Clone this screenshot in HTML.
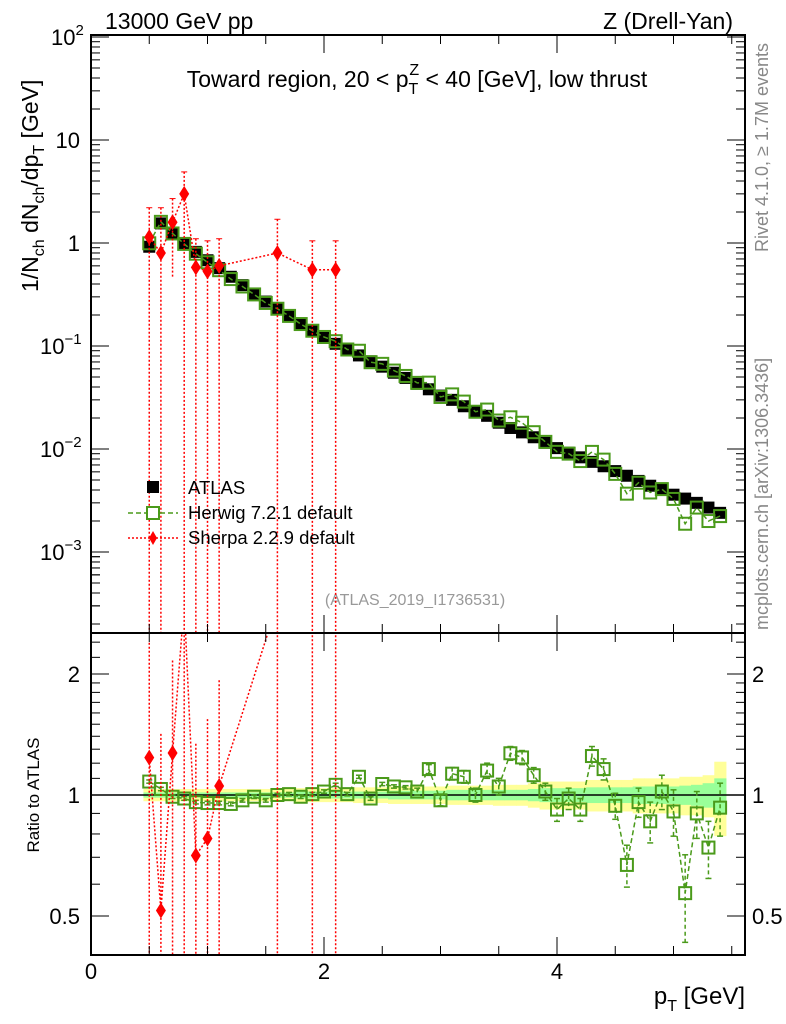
<!DOCTYPE html>
<html><head><meta charset="utf-8"><style>
html,body{margin:0;padding:0;background:#fff;width:786px;height:1024px;overflow:hidden}
svg{display:block;font-family:"Liberation Sans",sans-serif}
</style></head><body>
<svg id="c" width="786" height="1024" viewBox="0 0 786 1024" xmlns="http://www.w3.org/2000/svg">
<text x="105" y="29" font-size="23">13000 GeV pp</text>
<text x="733" y="29" font-size="23" text-anchor="end">Z (Drell-Yan)</text>
<text x="417" y="87" font-size="23" text-anchor="middle">Toward region, 20 &lt; p<tspan dy="7" font-size="16">T</tspan><tspan dx="-9" dy="-19" font-size="16">Z</tspan><tspan dy="12"> &lt; 40 [GeV], low thrust</tspan></text>
<text transform="translate(768,252) rotate(-90)" font-size="18" fill="#888">Rivet 4.1.0, ≥ 1.7M events</text>
<text transform="translate(768,630) rotate(-90)" font-size="18" fill="#888">mcplots.cern.ch [arXiv:1306.3436]</text>
<text x="415" y="605" font-size="16" fill="#999" text-anchor="middle">(ATLAS_2019_I1736531)</text>
<text transform="translate(38,292) rotate(-90)" font-size="23">1/N<tspan font-size="16" dy="6">ch</tspan><tspan dy="-6"> dN</tspan><tspan font-size="16" dy="6">ch</tspan><tspan dy="-6">/dp</tspan><tspan font-size="16" dy="6">T</tspan><tspan dy="-6"> [GeV]</tspan></text>
<text transform="translate(39,795) rotate(-90)" font-size="17" text-anchor="middle">Ratio to ATLAS</text>
<text x="745" y="1004" font-size="24" text-anchor="end">p<tspan font-size="16" dy="7">T</tspan><tspan dy="-7"> [GeV]</tspan></text>
<g id="bands"></g><g id="marks"></g><g id="axes"></g>
<g>
 <rect x="147" y="481" width="12" height="12" fill="#000"/>
 <text x="188" y="494" font-size="18.5">ATLAS</text>
 <line x1="128" y1="513" x2="178" y2="513" stroke="#4a9a1a" stroke-width="1.5" stroke-dasharray="5,3"/>
 <rect x="147" y="507" width="12" height="12" fill="#fff" stroke="#4a9a1a" stroke-width="2"/>
 <text x="188" y="519" font-size="18.5">Herwig 7.2.1 default</text>
 <line x1="128" y1="538" x2="178" y2="538" stroke="red" stroke-width="1.5" stroke-dasharray="2,2"/>
 <path d="M153,531 L157,538 L153,545 L149,538Z" fill="red"/>
 <text x="188" y="544" font-size="18.5">Sherpa 2.2.9 default</text>
</g>
</svg>
<script>
const xs=[0.5,0.6,0.7,0.8,0.9,1.0,1.1,1.2,1.3,1.4,1.5,1.6,1.7,1.8,1.9,2.0,2.1,2.2,2.3,2.4,2.5,2.6,2.7,2.8,2.9,3.0,3.1,3.2,3.3,3.4,3.5,3.6,3.7,3.8,3.9,4.0,4.1,4.2,4.3,4.4,4.5,4.6,4.7,4.8,4.9,5.0,5.1,5.2,5.3,5.4];
const atlas=[0.92,1.55,1.25,1.0,0.82,0.68,0.57,0.47,0.39,0.32,0.27,0.23,0.195,0.165,0.14,0.12,0.105,0.092,0.081,0.071,0.063,0.055,0.049,0.043,0.038,0.033,0.030,0.026,0.023,0.021,0.018,0.016,0.0145,0.013,0.0115,0.0102,0.0092,0.0083,0.0075,0.0068,0.0061,0.0055,0.0049,0.0044,0.0040,0.0036,0.0033,0.0030,0.0027,0.0024];
const herwigRatio=[1.08,1.035,0.99,0.98,0.96,0.955,0.955,0.95,0.97,0.99,0.97,1.0,1.005,0.99,1.005,1.02,1.06,1.005,1.11,0.98,1.065,1.05,1.045,1.02,1.16,0.97,1.13,1.11,1.0,1.15,1.05,1.27,1.24,1.12,1.02,0.92,0.98,0.92,1.25,1.16,0.94,0.67,0.96,0.86,1.02,0.91,0.57,0.90,0.74,0.93];
const herwigErr=[0.01,0.01,0.01,0.01,0.01,0.01,0.01,0.01,0.01,0.01,0.01,0.01,0.01,0.01,0.01,0.01,0.01,0.01,0.01,0.01,0.01,0.01,0.01,0.02,0.03,0.03,0.04,0.04,0.04,0.05,0.05,0.05,0.05,0.05,0.05,0.06,0.06,0.06,0.07,0.07,0.07,0.08,0.08,0.10,0.10,0.12,0.14,0.12,0.12,0.14];
const yellowBand=[0.035,0.035,0.035,0.035,0.035,0.035,0.035,0.035,0.035,0.035,0.035,0.035,0.035,0.04,0.04,0.04,0.04,0.04,0.045,0.045,0.045,0.05,0.05,0.05,0.05,0.05,0.055,0.055,0.055,0.055,0.06,0.06,0.06,0.07,0.08,0.08,0.08,0.08,0.09,0.09,0.09,0.09,0.10,0.10,0.10,0.10,0.11,0.11,0.12,0.21];
const greenBand=[0.015,0.015,0.015,0.015,0.015,0.015,0.015,0.015,0.015,0.015,0.015,0.015,0.015,0.02,0.02,0.02,0.02,0.02,0.02,0.02,0.02,0.025,0.025,0.025,0.025,0.025,0.03,0.03,0.03,0.03,0.03,0.03,0.03,0.035,0.04,0.04,0.04,0.04,0.045,0.045,0.045,0.045,0.05,0.05,0.05,0.05,0.055,0.06,0.07,0.10];
const sherpaX=[0.5,0.6,0.7,0.8,0.9,1.0,1.1,1.6,1.9,2.1];
const sherpaY=[1.14,0.80,1.59,3.0,0.58,0.53,0.60,0.80,0.55,0.55];
const sherpaUp=[2.2,2.2,2.7,4.9,1.1,1.05,1.1,1.7,1.05,1.05];
const sherpaDn=[0,0,0.47,0,0,0,0,0,0,0];
const mainTicks=[[2,"10","2"],[1,"10",""],[0,"1",""],[-1,"10","−1"],[-2,"10","−2"],[-3,"10","−3"]];
const ratioTicks=[[2,"2"],[1,"1"],[0.5,"0.5"]];
const xTicks=[0,2,4];

const NS="http://www.w3.org/2000/svg";
const L=91,R=745,T=35,MB=633,RB=955;
const X=v=>L+v*116.5;
const Y=v=>243-Math.log10(Math.max(v,1e-9))*103;
const YR=v=>795-Math.log10(Math.max(v,1e-9))*402;
function mk(tag,attrs,parent){const e=document.createElementNS(NS,tag);for(const k in attrs)e.setAttribute(k,attrs[k]);parent.appendChild(e);return e;}
const svg=document.getElementById('c');
const defs=mk('defs',{},svg);
const c1=mk('clipPath',{id:'cm'},defs);mk('rect',{x:L,y:T,width:R-L,height:MB-T},c1);
const c2=mk('clipPath',{id:'cr'},defs);mk('rect',{x:L,y:MB,width:R-L,height:RB-MB},c2);
const bands=document.getElementById('bands'),marks=document.getElementById('marks'),axes=document.getElementById('axes');
const gm=mk('g',{'clip-path':'url(#cm)'},marks), gr=mk('g',{'clip-path':'url(#cr)'},marks);
const gb=mk('g',{'clip-path':'url(#cr)'},bands);
xs.forEach((x,i)=>{
 let e=mk('rect',{x:X(x-0.05),y:YR(1+yellowBand[i]),width:X(0.1)-L+0.5,height:YR(1-yellowBand[i])-YR(1+yellowBand[i]),fill:'#ffff99'},gb);
 
 
});
xs.forEach((x,i)=>{
 let e=mk('rect',{x:X(x-0.05),y:YR(1+greenBand[i]),width:X(0.1)-L+0.5,height:YR(1-greenBand[i])-YR(1+greenBand[i]),fill:'#99ff99'},gb);
 
 
});
mk('line',{x1:L,x2:R,y1:YR(1),y2:YR(1),stroke:'#000','stroke-width':1.5},gr);
xs.forEach((x,i)=>{
 let e=mk('rect',{x:X(x)-6,y:Y(atlas[i])-6,width:12,height:12,fill:'#000'},gm);
 
 
});
const hw=xs.map((x,i)=>atlas[i]*herwigRatio[i]);
mk('polyline',{points:xs.map((x,i)=>X(x)+','+Y(hw[i])).join(' '),fill:'none',stroke:'#4a9a1a','stroke-width':1.5,'stroke-dasharray':'5,3'},gm);
mk('polyline',{points:xs.map((x,i)=>X(x)+','+YR(herwigRatio[i])).join(' '),fill:'none',stroke:'#4a9a1a','stroke-width':1.5,'stroke-dasharray':'5,3'},gr);
xs.forEach((x,i)=>{
 const r=herwigRatio[i],er=herwigErr[i];
 mk('line',{x1:X(x),x2:X(x),y1:YR(r+er),y2:YR(r-er),stroke:'#4a9a1a','stroke-width':1.5,'stroke-dasharray':'4,3'},gr);
 mk('line',{x1:X(x)-3,x2:X(x)+3,y1:YR(r+er),y2:YR(r+er),stroke:'#4a9a1a','stroke-width':1.5},gr);
 mk('line',{x1:X(x)-3,x2:X(x)+3,y1:YR(r-er),y2:YR(r-er),stroke:'#4a9a1a','stroke-width':1.5},gr);
 let e=mk('rect',{x:X(x)-6,y:Y(hw[i])-6,width:12,height:12,fill:'none',stroke:'#4a9a1a','stroke-width':2},gm);
 
 
 let f=mk('rect',{x:X(x)-6,y:YR(r)-6,width:12,height:12,fill:'none',stroke:'#4a9a1a','stroke-width':2},gr);
 
 
});
const sIdx=sherpaX.map(x=>xs.findIndex(v=>Math.abs(v-x)<1e-6));
const sr=sherpaY.map((y,i)=>y/atlas[sIdx[i]]);
const clampR=v=>Math.min(Math.max(v,0.3),3);
mk('polyline',{points:sherpaX.map((x,i)=>X(x)+','+Y(sherpaY[i])).join(' '),fill:'none',stroke:'red','stroke-width':1.5,'stroke-dasharray':'2,2'},gm);
mk('polyline',{points:sherpaX.map((x,i)=>X(x)+','+YR(clampR(sr[i]))).join(' '),fill:'none',stroke:'red','stroke-width':1.5,'stroke-dasharray':'2,2'},gr);
sherpaX.forEach((x,i)=>{
 const a=atlas[sIdx[i]];
 const dn=sherpaDn[i]>0?sherpaDn[i]:1e-4;
 mk('line',{x1:X(x),x2:X(x),y1:Y(sherpaUp[i]),y2:Y(dn),stroke:'red','stroke-width':1.5,'stroke-dasharray':'2,2'},gm);
 mk('line',{x1:X(x)-3,x2:X(x)+3,y1:Y(sherpaUp[i]),y2:Y(sherpaUp[i]),stroke:'red','stroke-width':1},gm);
 mk('line',{x1:X(x),x2:X(x),y1:YR(clampR(sherpaUp[i]/a)),y2:YR(clampR(dn/a)),stroke:'red','stroke-width':1.5,'stroke-dasharray':'2,2'},gr);
 const cx=X(x),cy=Y(sherpaY[i]),cyr=YR(clampR(sr[i]));
 let e=mk('path',{d:`M${cx},${cy-8}L${cx+5},${cy}L${cx},${cy+8}L${cx-5},${cy}Z`,fill:'red'},gm);
 
 
 let f=mk('path',{d:`M${cx},${cyr-8}L${cx+5},${cyr}L${cx},${cyr+8}L${cx-5},${cyr}Z`,fill:'red'},gr);
 
 
});
mk('rect',{x:L,y:T,width:R-L,height:MB-T,fill:'none',stroke:'#000','stroke-width':2},axes);
mk('rect',{x:L,y:MB,width:R-L,height:RB-MB,fill:'none',stroke:'#000','stroke-width':2},axes);
mainTicks.forEach(t=>{
 const y=Y(Math.pow(10,t[0]));
 mk('line',{x1:L,x2:L+18,y1:y,y2:y,stroke:'#000','stroke-width':1},axes);
 mk('line',{x1:R-18,x2:R,y1:y,y2:y,stroke:'#000','stroke-width':1},axes);
 for(let m=2;m<10;m++){const ym=Y(m*Math.pow(10,t[0]-1));if(ym<MB&&ym>T){mk('line',{x1:L,x2:L+9,y1:ym,y2:ym,stroke:'#000'},axes);mk('line',{x1:R-9,x2:R,y1:ym,y2:ym,stroke:'#000'},axes);}}
 const tx=mk('text',{x:80,y:y+8,'font-size':22,'text-anchor':'end'},axes);
 tx.textContent=t[1];
 
 
 if(t[2]){const s=mk('tspan',{dy:-10,'font-size':15},tx);s.textContent=t[2];tx.setAttribute('text-anchor','start');tx.setAttribute('x',t[2].length>1?40:51);}
});
for(let m=2;m<10;m++){const ym=Y(m*1e-4);if(ym<MB){mk('line',{x1:L,x2:L+9,y1:ym,y2:ym,stroke:'#000'},axes);mk('line',{x1:R-9,x2:R,y1:ym,y2:ym,stroke:'#000'},axes);}}
ratioTicks.forEach(t=>{
 const y=YR(t[0]);
 mk('line',{x1:L,x2:L+18,y1:y,y2:y,stroke:'#000'},axes);
 mk('line',{x1:R-18,x2:R,y1:y,y2:y,stroke:'#000'},axes);
 const a=mk('text',{x:80,y:y+8,'font-size':22,'text-anchor':'end'},axes);a.textContent=t[1];
 
 
 const b=mk('text',{x:752,y:y+8,'font-size':22},axes);b.textContent=t[1];
 
 
});
[0.4,0.6,0.7,0.8,0.9,1.1,1.2,1.3,1.4,1.5,1.6,1.7,1.8,1.9,2.2,2.4].forEach(v=>{const y=YR(v);mk('line',{x1:L,x2:L+9,y1:y,y2:y,stroke:'#000'},axes);mk('line',{x1:R-9,x2:R,y1:y,y2:y,stroke:'#000'},axes);});
for(let v=0;v<=5.5;v+=0.5){
 const x=X(v),big=Math.abs(v%2)<1e-6,h=big?18:9;
 [[T,T+h],[MB,MB-h],[MB,MB+h],[RB,RB-h]].forEach(p=>mk('line',{x1:x,x2:x,y1:p[0],y2:p[1],stroke:'#000'},axes));
}
xTicks.forEach(v=>{const t=mk('text',{x:X(v),y:979,'font-size':22,'text-anchor':'middle'},axes);t.textContent=v;
 
 });
</script>
</body></html>
